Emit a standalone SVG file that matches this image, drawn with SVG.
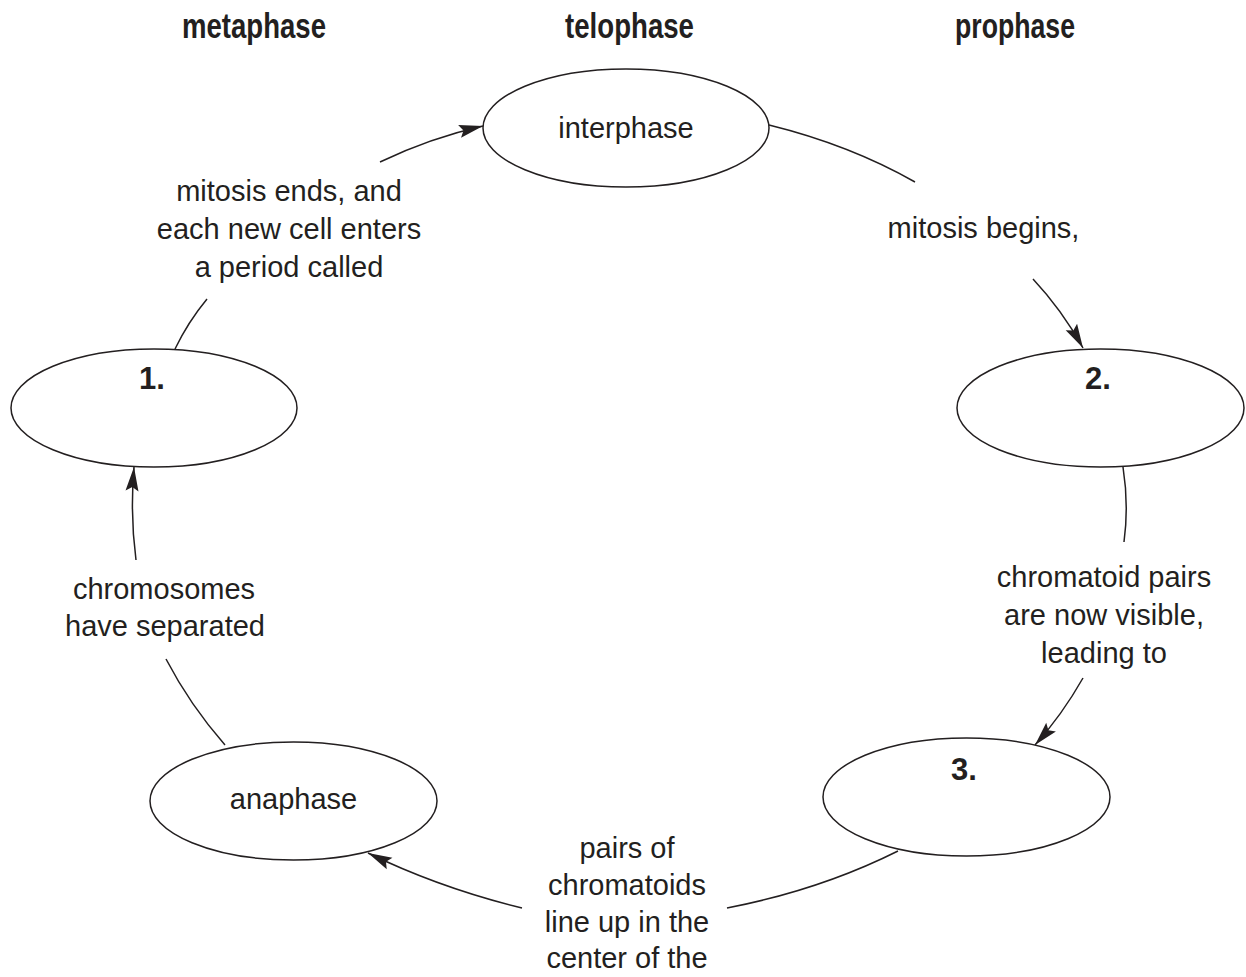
<svg xmlns="http://www.w3.org/2000/svg" width="1246" height="977" viewBox="0 0 1246 977">
<style>
  .node ellipse { fill: #ffffff; stroke: #231f20; stroke-width: 1.5; }
  .lbl { font-family: "Liberation Sans", Arial, sans-serif; font-size: 29px; fill: #231f20; text-anchor: middle; }
  .num { font-family: "Liberation Sans", Arial, sans-serif; font-size: 31px; font-weight: bold; fill: #231f20; text-anchor: middle; }
  .hdr { font-family: "Liberation Sans", Arial, sans-serif; font-size: 35px; font-weight: bold; fill: #231f20; }
  .conn path { fill: none; stroke: #231f20; stroke-width: 1.5; }
</style>
<defs>
  <marker id="arr" viewBox="-25 -7 26 14" refX="0" refY="0" markerWidth="26" markerHeight="14" orient="auto" markerUnits="userSpaceOnUse">
    <path d="M0,0 L-24,-6.5 L-20,0 L-24,6.5 Z" fill="#231f20"/>
  </marker>
</defs>
<rect width="1246" height="977" fill="#ffffff"/>

<g id="headers">
  <text class="hdr" x="182" y="38" textLength="144" lengthAdjust="spacingAndGlyphs">metaphase</text>
  <text class="hdr" x="565" y="38" textLength="129" lengthAdjust="spacingAndGlyphs">telophase</text>
  <text class="hdr" x="955" y="38" textLength="120" lengthAdjust="spacingAndGlyphs">prophase</text>
</g>

<g id="connectors" class="conn">
  <path d="M175,349 Q188,322 207,299"/>
  <path d="M380,162 Q430,138 483,126" marker-end="url(#arr)"/>
  <path d="M769,125 Q850,145 915,182"/>
  <path d="M1033,279 Q1062,310 1083,348" marker-end="url(#arr)"/>
  <path d="M1123,467 Q1129,505 1124,542"/>
  <path d="M1083,678 Q1062,715 1035,745" marker-end="url(#arr)"/>
  <path d="M898,851 Q820,890 727,908"/>
  <path d="M522,908 Q440,888 368,853" marker-end="url(#arr)"/>
  <path d="M225,745 Q190,705 166,659"/>
  <path d="M136,560 Q130,515 134,467" marker-end="url(#arr)"/>
</g>

<g id="node-interphase" class="node">
  <ellipse cx="626" cy="128" rx="143" ry="59"/>
  <text class="lbl" x="626" y="138">interphase</text>
</g>
<g id="node-1" class="node">
  <ellipse cx="154" cy="408" rx="143" ry="59"/>
  <text class="num" x="152" y="389">1.</text>
</g>
<g id="node-2" class="node">
  <ellipse cx="1100.5" cy="408" rx="143.5" ry="59"/>
  <text class="num" x="1098" y="389">2.</text>
</g>
<g id="node-3" class="node">
  <ellipse cx="966.5" cy="797" rx="143.5" ry="59"/>
  <text class="num" x="964" y="780">3.</text>
</g>
<g id="node-anaphase" class="node">
  <ellipse cx="293.5" cy="801" rx="143.5" ry="59"/>
  <text class="lbl" x="293.5" y="809">anaphase</text>
</g>

<g id="edge-labels">
  <text class="lbl" x="289" y="201">mitosis ends, and</text>
  <text class="lbl" x="289" y="239">each new cell enters</text>
  <text class="lbl" x="289" y="277">a period called</text>
  <text class="lbl" x="983.5" y="238">mitosis begins,</text>
  <text class="lbl" x="1104" y="587">chromatoid pairs</text>
  <text class="lbl" x="1104" y="625">are now visible,</text>
  <text class="lbl" x="1104" y="663">leading to</text>
  <text class="lbl" x="627" y="858">pairs of</text>
  <text class="lbl" x="627" y="895">chromatoids</text>
  <text class="lbl" x="627" y="932">line up in the</text>
  <text class="lbl" x="627" y="968">center of the</text>
  <text class="lbl" x="164" y="599">chromosomes</text>
  <text class="lbl" x="165" y="636">have separated</text>
</g>
</svg>
